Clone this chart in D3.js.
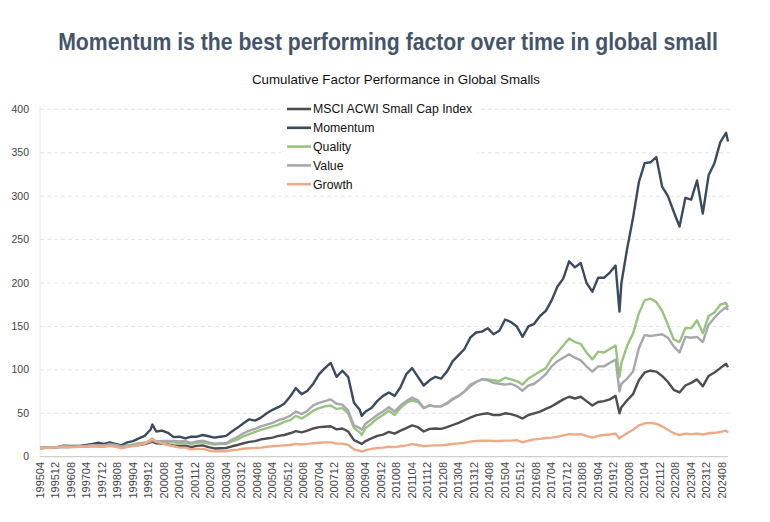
<!DOCTYPE html>
<meta charset='utf-8'>
<style>
body { margin: 0; background: #fff; }
svg text { font-family: 'Liberation Sans', Arial, sans-serif; }
.title { font-weight: bold; font-size: 23px; fill: #44546a; }
.subtitle { font-size: 13px; fill: #111; }
.legend text { font-size: 12.3px; fill: #111; }
.ytick { font-size: 10.5px; fill: #444; }
.xtick { font-size: 10px; fill: #444; }
.grid { stroke: #e4e4e4; stroke-dasharray: 4,3; }
</style>
<div id='chart'></div>
<script src='https://d3js.org/d3.v7.min.js'></script>
<script>

// sample months (YYYYMM), roughly quarterly plus a few turning points
var dates = [
  '199504','199507','199510',
  '199601','199604','199607','199610',
  '199701','199704','199707','199710',
  '199801','199804','199807','199810',
  '199901','199904','199907','199910',
  '200001','200002','200004','200007','200010',
  '200101','200104','200107','200110',
  '200201','200204','200207','200210',
  '200301','200304','200307','200310',
  '200401','200404','200407','200410',
  '200501','200504','200507','200510',
  '200601','200604','200607','200610',
  '200701','200704','200707','200710',
  '200801','200804','200807','200810',
  '200901','200902','200904','200907','200910',
  '201001','201004','201007','201010',
  '201101','201104','201107','201110',
  '201201','201204','201207','201210',
  '201301','201304','201307','201310',
  '201401','201404','201407','201410',
  '201501','201504','201507','201510',
  '201601','201604','201607','201610',
  '201701','201704','201707','201710',
  '201801','201804','201807','201810',
  '201901','201904','201907','201910',
  '202001','202003','202004','202007','202010',
  '202101','202104','202107','202110',
  '202201','202204','202207','202210',
  '202301','202304','202307','202310',
  '202401','202404','202407','202410','202411'
];

var msci = [
  10, 10.3, 10.4,
  11, 11.5, 11.2, 11.3,
  11.8, 11.8, 12.6, 12.3,
  12, 13, 12.4, 10.5,
  12, 13, 13.5, 14.5,
  16.5, 17, 15.5, 15, 14,
  13, 12.5, 12.8, 11,
  12.5, 13, 11, 9.5,
  9.8, 10, 12, 13.5,
  15.5, 17, 18, 20,
  21, 22, 24, 25,
  27, 29.5, 28, 30,
  32.5, 34, 34.5, 35,
  31.5, 32.5, 29, 19,
  16, 14.5, 18, 21, 24,
  25.5, 28.5, 26.5, 30,
  33, 36, 34, 29,
  32, 32.5, 32, 34,
  36.5, 39, 42, 45,
  47.5, 49, 50, 48,
  48, 50, 49, 47,
  44, 48, 50, 52,
  55, 58, 62, 66,
  69, 67, 69, 64,
  59, 63, 64, 66,
  70, 50, 57, 65, 72,
  88, 97, 99, 98,
  93, 86, 77, 74,
  82, 85, 89, 81,
  93, 97, 102, 107, 103
];

var momentum = [
  10, 10.2, 10.5,
  11, 12.7, 12.3, 12.3,
  12.8, 13.5, 14.6, 16,
  14.8, 16.5, 14.6, 13,
  16.5, 18, 21, 24,
  31, 37, 29, 30, 27.5,
  22.5, 23, 21, 23,
  23, 25, 23.5, 22,
  23, 24, 29, 33.5,
  38.5, 43, 41.5, 45,
  50, 54, 57, 61,
  69, 79, 72, 76,
  84, 95, 102, 108,
  92, 99, 92, 62,
  54, 47, 52, 56, 64,
  70, 74, 70, 80,
  95, 102, 92, 82,
  88, 92, 90, 98,
  110, 117, 124, 137,
  143, 144, 148, 141,
  145, 158, 155, 150,
  138, 150, 153, 162,
  168, 180, 196, 205,
  225, 218, 223, 200,
  190, 206, 206, 212,
  220, 167, 200, 240, 275,
  316, 338, 339, 345,
  311, 300, 282, 265,
  298, 296, 318, 280,
  324, 338, 362, 373, 363
];

var quality = [
  10, 10.3, 10.5,
  11, 11.8, 11.5, 11.8,
  12.2, 12.2, 13, 13.2,
  13, 14, 13.5, 11.5,
  13, 14, 15.5, 16,
  18, 19, 17.5, 17.5, 17,
  16.5, 15.5, 16, 14.5,
  16, 16.5, 15, 14,
  14.5, 14.5, 17.5, 20,
  23.5, 26, 28.5, 31,
  33, 35, 37, 40,
  42, 47, 44, 48,
  53, 56, 58, 59,
  55, 56, 50, 33,
  28, 25, 33, 38, 44,
  48, 53, 48, 56,
  62, 65, 63, 56,
  59, 58, 58, 62,
  67, 70, 75, 83,
  86, 89, 89, 88,
  87, 91, 89, 87,
  83, 90, 94, 98,
  102, 113, 120, 128,
  136, 132, 130, 120,
  112, 121, 120, 124,
  128, 92, 108, 128, 142,
  165, 180, 182, 178,
  168, 152, 135, 132,
  148, 148, 157, 142,
  162, 166, 175, 177, 172
];

var value = [
  10, 10.3, 10.6,
  11, 11.8, 11.5, 11.8,
  12.3, 12.5, 13.2, 13.2,
  13, 14, 13.2, 11.5,
  12.5, 13.5, 14.5, 15.5,
  17.5, 18.5, 17.5, 18, 18,
  18, 17.5, 18, 16,
  17.5, 18.5, 16.5, 15,
  15.5, 15.5, 19.5, 23,
  27, 30, 32, 35,
  37, 39, 42, 44,
  47, 52, 49, 53,
  59, 62, 64, 66,
  61, 60, 53, 36,
  33, 31, 38, 43, 48,
  52, 57, 52, 59,
  64, 68, 65, 56,
  59, 58, 58, 61,
  66, 70, 75, 81,
  86, 89, 88, 85,
  84, 83, 84, 81,
  76, 82, 84, 89,
  95, 104, 110, 114,
  118, 114, 111, 104,
  98, 104, 104, 108,
  112, 75, 84, 90, 98,
  125, 140, 139, 140,
  141, 137, 127, 120,
  138, 137, 138, 132,
  152, 160, 167, 172, 169
];

var growth = [
  10, 10.2, 10.3,
  10.8, 11.5, 11, 11,
  11.5, 11.3, 12.3, 11.8,
  11.5, 12.5, 11.5, 9.5,
  11.2, 12.2, 13.5, 15,
  19.5, 21, 17, 15.5, 13.5,
  12, 10.5, 10.5, 8.5,
  9, 9, 7.2, 6.2,
  6.2, 6.3, 7.5, 8.2,
  9.2, 9.8, 10, 10.5,
  11.5, 12, 12.5, 13,
  13.5, 14.8, 14, 14.8,
  15.5, 16, 16.5, 16.5,
  15, 15, 13.5, 8.5,
  6.8, 5.8, 7.5, 9, 10,
  10.5, 11.5, 11, 12,
  13, 14.5, 13.5, 12,
  12.8, 13, 13, 13.8,
  14.6, 15.3, 16, 17.3,
  18.2, 18.4, 18.4, 18,
  18, 18.5, 18.5, 19,
  16.5, 18.5, 20, 20.5,
  21.5, 22, 23, 24.5,
  26, 25.5, 26, 24,
  22, 24, 25, 25.5,
  26.5, 21, 23, 27, 31,
  36, 38.5, 39, 38,
  35, 31, 27, 25,
  26.5, 26, 26.5, 25.5,
  27, 27.5, 28.5, 30, 27.5
];

var xLabels = ['199504','199512','199608','199704','199712','199808','199904','199912',
  '200008','200104','200112','200208','200304','200312','200408','200504','200512',
  '200608','200704','200712','200808','200904','200912','201008','201104','201112',
  '201208','201304','201312','201408','201504','201512','201608','201704','201712',
  '201808','201904','201912','202008','202104','202112','202208','202304','202312','202408'];

var yTicks = [0, 50, 100, 150, 200, 250, 300, 350, 400];

var seriesNames = ['MSCI ACWI Small Cap Index', 'Momentum', 'Quality', 'Value', 'Growth'];
var seriesColors = ['#4e4e4e', '#3b4a5d', '#97c47f', '#a7a7ae', '#eeaa86'];
var seriesValues = [msci, momentum, quality, value, growth];

var width = 770, height = 522;
var plot = {left: 40, right: 728, top: 109.3, bottom: 456.7};

function monthIndex(s) {
  return (+s.slice(0, 4) - 1995) * 12 + (+s.slice(4) - 4);
}

var svg = d3.select('#chart').append('svg')
  .attr('width', width)
  .attr('height', height);

var x = d3.scaleLinear()
  .domain([0, monthIndex('202411')])
  .range([plot.left, plot.right]);

var y = d3.scaleLinear()
  .domain([0, 400])
  .range([plot.bottom, plot.top]);

// title: squeeze the bold face horizontally to the width of the narrow original
var title = svg.append('text')
  .attr('class', 'title')
  .attr('text-anchor', 'middle')
  .text('Momentum is the best performing factor over time in global small');
var titleWidth = title.node().getComputedTextLength();
title.attr('transform', 'translate(388,50) scale(' + (660 / titleWidth) + ',1)');

svg.append('text')
  .attr('class', 'subtitle')
  .attr('x', 396)
  .attr('y', 84)
  .attr('text-anchor', 'middle')
  .attr('textLength', 288)
  .attr('lengthAdjust', 'spacingAndGlyphs')
  .text('Cumulative Factor Performance in Global Smalls');

// grid
svg.append('g')
  .selectAll('line')
  .data(yTicks.filter(function(d) { return d > 0; }))
  .enter()
  .append('line')
    .attr('class', 'grid')
    .attr('x1', plot.left)
    .attr('x2', plot.right + 2)
    .attr('y1', function(d) { return y(d); })
    .attr('y2', function(d) { return y(d); });

svg.append('line')
  .attr('x1', plot.left).attr('x2', plot.left)
  .attr('y1', plot.top - 4).attr('y2', plot.bottom)
  .attr('stroke', '#e8e8e8');

svg.append('line')
  .attr('x1', plot.left).attr('x2', plot.right)
  .attr('y1', plot.bottom).attr('y2', plot.bottom)
  .attr('stroke', '#cfcfcf')
  .attr('stroke-width', 1.2);

// y labels
svg.append('g')
  .selectAll('text')
  .data(yTicks)
  .enter()
  .append('text')
    .attr('class', 'ytick')
    .attr('x', 29)
    .attr('y', function(d) { return y(d) + 3.5; })
    .attr('text-anchor', 'end')
    .text(function(d) { return d; });

// x labels
svg.append('g')
  .selectAll('text')
  .data(xLabels)
  .enter()
  .append('text')
    .attr('class', 'xtick')
    .attr('transform', function(d) { return 'translate(' + (x(monthIndex(d)) + 3.5) + ',' + 462 + ') rotate(-90)'; })
    .attr('text-anchor', 'end')
    .attr('textLength', 36.5)
    .attr('lengthAdjust', 'spacingAndGlyphs')
    .text(function(d) { return d; });

// lines
var line = d3.line()
  .x(function(d, i) { return x(monthIndex(dates[i])); })
  .y(function(d) { return y(d); });

svg.append('g')
  .selectAll('path')
  .data(seriesValues)
  .enter()
  .append('path')
    .attr('fill', 'none')
    .attr('stroke', function(d, i) { return seriesColors[i]; })
    .attr('stroke-width', 2.4)
    .attr('stroke-linejoin', 'round')
    .attr('d', line);

// legend
svg.append('rect')
  .attr('x', 281).attr('y', 99)
  .attr('width', 196).attr('height', 94)
  .attr('fill', '#fff');

var legend = svg.selectAll('.legend')
  .data(seriesNames)
  .enter()
  .append('g')
    .attr('class', 'legend')
    .attr('transform', function(d, i) { return 'translate(0,' + (109 + i * 18.8) + ')'; });

legend.append('line')
  .attr('x1', 287).attr('x2', 311)
  .attr('stroke', function(d, i) { return seriesColors[i]; })
  .attr('stroke-width', 2.6);

legend.append('text')
  .attr('x', 313)
  .attr('dy', '0.35em')
  .text(function(d) { return d; });

</script>
